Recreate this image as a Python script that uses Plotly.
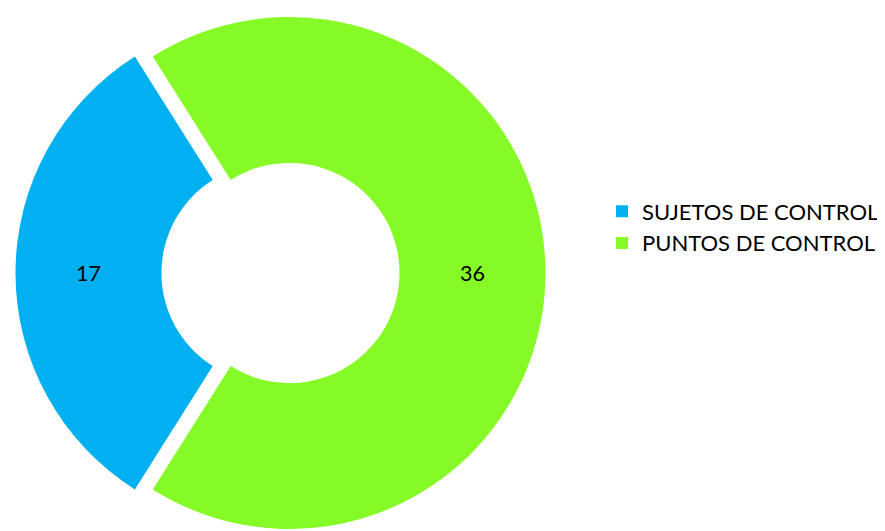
import plotly.graph_objects as go

labels = ["SUJETOS DE CONTROL", "PUNTOS DE CONTROL"]
values = [17, 36]
colors = ["#00B0F0", "#86FA26"]

W, H = 885, 531

blue_span = 360 * values[0] / sum(values)

fig = go.Figure(
    go.Pie(
        labels=labels,
        values=values,
        sort=False,
        direction="counterclockwise",
        rotation=-(90 + blue_span / 2),
        hole=0.43,
        pull=[0.035, 0.035],
        marker=dict(colors=colors, line=dict(width=0)),
        textinfo="value",
        textposition="inside",
        insidetextorientation="horizontal",
        textfont=dict(family="Lato", size=21.5, color="#000000"),
        domain=dict(x=[2.5 / W, 542.5 / W], y=[(H - 530) / H, 1.0]),
        hoverinfo="label+value+percent",
    )
)

fig.update_layout(
    width=W,
    height=H,
    margin=dict(l=0, r=0, t=0, b=0),
    paper_bgcolor="white",
    plot_bgcolor="white",
    showlegend=True,
    legend=dict(
        x=594 / W,
        xanchor="left",
        y=(H - 219.5) / H,
        yanchor="middle",
        font=dict(family="Lato", size=22, color="#000000"),
        bgcolor="rgba(0,0,0,0)",
    ),
)

fig.write_html("out.html")
